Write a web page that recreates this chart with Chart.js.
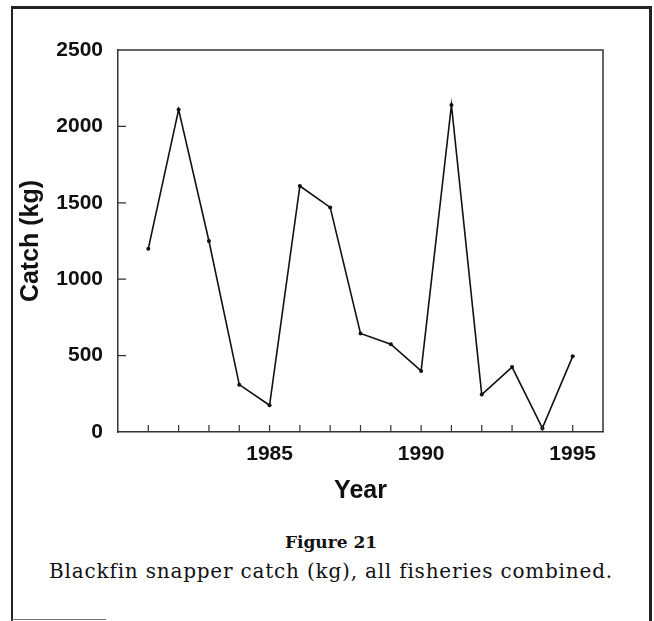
<!DOCTYPE html>
<html>
<head>
<meta charset="utf-8">
<script src="https://cdn.jsdelivr.net/npm/chart.js@4"></script>
<style>
  body { margin: 0; background: #fff; }
  #page { position: relative; width: 654px; height: 621px; overflow: hidden; }
  #frame {
    position: absolute; left: 11px; top: 6px; width: 636px; height: 620px;
    border-left: 2px solid #222; border-top: 3px solid #222; border-right: 3px solid #222;
  }
  #foot { position: absolute; left: 12px; top: 619px; width: 94px; height: 1px; background: #777; }
  #chartBox { position: absolute; left: 0; top: 0; width: 654px; height: 520px; }
  .cap { position: absolute; left: 12px; width: 638px; text-align: center; color: #111;
         font-family: "DejaVu Serif", "Liberation Serif", serif; }
  #figNo { top: 532px; font-size: 17px; font-weight: bold; }
  #figText { top: 559px; font-size: 20px; letter-spacing: 0.8px; }
</style>
</head>
<body>
<div id="page">
  <div id="frame"></div>
  <div id="foot"></div>
  <div id="chartBox"><canvas id="catchChart" width="654" height="520"></canvas></div>
  <div class="cap" id="figNo">Figure 21</div>
  <div class="cap" id="figText">Blackfin snapper catch (kg), all fisheries combined.</div>
</div>
<script>
// 연도별 어획량 (kg)
const years = [1981, 1982, 1983, 1984, 1985, 1986, 1987, 1988, 1989, 1990, 1991, 1992, 1993, 1994, 1995];
const catchKg = [1200, 2110, 1250, 310, 175, 1610, 1470, 645, 575, 400, 2140, 245, 425, 25, 495];
const yearLabels = [1985, 1990, 1995];
const catchTicks = [0, 500, 1000, 1500, 2000, 2500];

const tickFont = { family: 'Liberation Sans, Arial, sans-serif', size: 21, weight: 'bold' };
const titleFont = { family: 'Liberation Sans, Arial, sans-serif', size: 25, weight: 'bold' };

/**
 * 안쪽으로 향하는 눈금과 상자 테두리
 */
const innerTicks = {
  id: 'innerTicks',
  afterDatasetsDraw(chart) {
    const { ctx, chartArea, scales } = chart;
    ctx.save();
    ctx.strokeStyle = '#333';
    ctx.lineWidth = 1.5;
    ctx.beginPath();
    ctx.moveTo(chartArea.left, chartArea.top);
    ctx.lineTo(chartArea.right, chartArea.top);
    ctx.lineTo(chartArea.right, chartArea.bottom);
    ctx.stroke();

    ctx.lineWidth = 1.2;
    ctx.beginPath();
    for (let y = 1981; y <= 1995; y++) {
      const x = scales.x.getPixelForValue(y);
      ctx.moveTo(x, chartArea.bottom);
      ctx.lineTo(x, chartArea.bottom - 7);
    }
    catchTicks.slice(1, -1).forEach(v => {
      const py = scales.y.getPixelForValue(v);
      ctx.moveTo(chartArea.left, py);
      ctx.lineTo(chartArea.left + 8, py);
    });
    ctx.stroke();
    ctx.restore();
  }
};

const ctx = document.getElementById('catchChart').getContext('2d');
new Chart(ctx, {
  type: 'line',
  data: {
    datasets: [{
      data: years.map((y, i) => ({ x: y, y: catchKg[i] })),
      borderColor: '#111',
      borderWidth: 1.6,
      pointRadius: 2,
      pointBackgroundColor: '#111',
      pointBorderWidth: 0,
      tension: 0,
      fill: false
    }]
  },
  options: {
    responsive: false,
    animation: false,
    layout: { padding: { left: 0, top: 50, right: 51, bottom: 0 } },
    plugins: { legend: { display: false }, tooltip: { enabled: false } },
    scales: {
      x: {
        type: 'linear',
        min: 1980,
        max: 1996,
        grid: { display: false },
        border: { display: true, color: '#333', width: 1.5 },
        afterFit: scale => { scale.height = 88; },
        afterBuildTicks: scale => {
          scale.ticks = yearLabels.map(v => ({ value: v }));
        },
        ticks: {
          autoSkip: false,
          maxRotation: 0,
          padding: 2,
          color: '#111',
          font: tickFont,
          callback: v => String(v)
        },
        title: { display: true, text: 'Year', color: '#111', font: titleFont, padding: { top: 0, bottom: 14 } }
      },
      y: {
        min: 0,
        max: 2500,
        grid: { display: false },
        border: { display: true, color: '#333', width: 1.5 },
        afterFit: scale => { scale.width = 118; },
        afterBuildTicks: scale => {
          scale.ticks = catchTicks.map(v => ({ value: v }));
        },
        ticks: { padding: 7, color: '#111', font: tickFont, callback: v => String(v) },
        title: { display: true, text: 'Catch (kg)', color: '#111', font: titleFont, padding: { top: 16, bottom: 0 } }
      }
    }
  },
  plugins: [innerTicks]
});
</script>
</body>
</html>
